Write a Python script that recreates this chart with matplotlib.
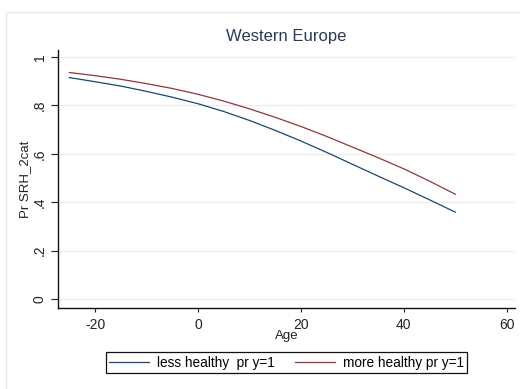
import matplotlib
matplotlib.use("Agg")
import matplotlib.pyplot as plt
from matplotlib.patches import Rectangle

plt.rcParams['font.family'] = ['Liberation Sans', 'DejaVu Sans']
plt.rcParams['axes.unicode_minus'] = False

# predicted Pr(SRH_2cat = 1) by centred age
age = [-25, -20, -15, -10, -5, 0, 5, 10, 15, 20, 25, 30, 35, 40, 45, 50]
less_healthy = [0.915, 0.898, 0.880, 0.858, 0.834, 0.807, 0.775, 0.738,
                0.697, 0.653, 0.606, 0.557, 0.508, 0.460, 0.410, 0.359]
more_healthy = [0.936, 0.923, 0.908, 0.890, 0.870, 0.846, 0.818, 0.786,
                0.751, 0.713, 0.672, 0.628, 0.584, 0.538, 0.487, 0.433]

yticks = [0, 0.2, 0.4, 0.6, 0.8, 1]
ytick_labels = ['0', '.2', '.4', '.6', '.8', '1']
xticks = [-20, 0, 20, 40, 60]

fig = plt.figure(figsize=(5.2, 3.89), dpi=100)
fig.patch.set_facecolor('white')

# faint outer frame of the graph region
fig.add_artist(Rectangle((6 / 520, -0.05), 1.2, 1 - 12 / 389 + 0.05,
                         transform=fig.transFigure, fill=False,
                         edgecolor='#e3ecee', linewidth=1.0))

ax = fig.add_axes([58 / 520, 1 - 308 / 389, (515 - 58) / 520, (308 - 50) / 389])

for y in yticks:
    ax.axhline(y, color='#ececec', linewidth=0.9, zorder=0)

ax.plot(age, less_healthy, color='#1a476f', linewidth=0.9, label='less healthy  pr y=1')
ax.plot(age, more_healthy, color='#90353b', linewidth=0.9, label='more healthy pr y=1')

ax.set_xlim(-27.2, 61.6)
ax.set_ylim(-0.037, 1.029)
ax.set_xticks(xticks)
ax.set_yticks(yticks)
ax.set_yticklabels(ytick_labels, rotation=90, va='center')

for side in ['top', 'right']:
    ax.spines[side].set_visible(False)
for side in ['left', 'bottom']:
    ax.spines[side].set_linewidth(1.0)
    ax.spines[side].set_color('#111111')

ax.tick_params(axis='y', length=5, width=0.8, pad=3, labelsize=10, colors='#222222')
ax.tick_params(axis='x', length=3, width=0.8, pad=4, labelsize=10, colors='#222222')

ax.set_xlabel('Age', fontsize=9.5, color='#222222', labelpad=-1)
ax.set_ylabel('Pr SRH_2cat', fontsize=9.5, color='#222222', labelpad=1)

fig.text(0.551, 1 - 37 / 389, 'Western Europe', ha='center', va='center',
         fontsize=12, color='#2b3a55')

fig.legend(loc='center', bbox_to_anchor=(0.551, 0.068), ncol=2,
           fancybox=False, edgecolor='#111111', framealpha=1,
           fontsize=9.8, handlelength=2.9, columnspacing=1.5,
           borderpad=0.25, handletextpad=0.6).get_frame().set_linewidth(0.9)

fig.savefig('out.png', dpi=100)
